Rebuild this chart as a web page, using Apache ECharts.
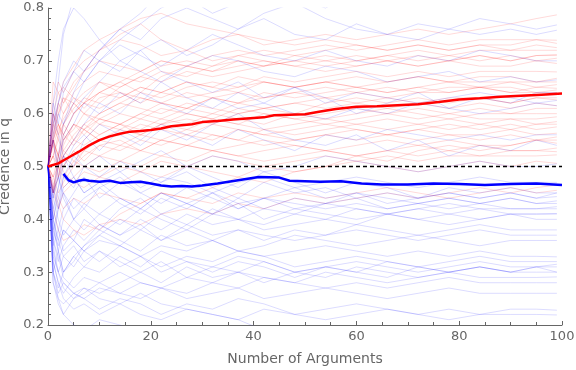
<!DOCTYPE html>
<html><head><meta charset="utf-8">
<script src="https://cdn.jsdelivr.net/npm/echarts@6/dist/echarts.min.js"></script>
<style>html,body{margin:0;padding:0;background:#fff}#c{width:576px;height:370px}</style>
</head><body><div id="c"></div>
<script>
const xTitle = "Number of Arguments";
const yTitle = "Credence in q";
const xTicks = [0, 20, 40, 60, 80, 100];
const yTicks = [0.2, 0.3, 0.4, 0.5, 0.6, 0.7, 0.8];
const neutral = 0.5;

// x positions of the individual runs
const runX = [0,1,2,3,5,7,10,14,18,22,27,32,37,42,48,54,60,66,72,78,84,90,95,99];

const redRuns = [
[.50,.55,.60,.62,.65,.68,.72,.75,.77,.74,.72,.74,.75,.73,.74,.75,.74,.75,.76,.75,.76,.77,.78,.787],
[.50,.66,.64,.65,.63,.62,.64,.66,.68,.70,.69,.71,.72,.71,.72,.73,.72,.73,.74,.73,.74,.74,.74,.739],
[.50,.45,.52,.56,.60,.62,.66,.65,.67,.69,.70,.69,.71,.72,.71,.72,.73,.72,.73,.72,.73,.73,.74,.733],
[.50,.58,.62,.60,.64,.66,.68,.67,.66,.68,.67,.69,.70,.69,.70,.71,.70,.71,.72,.71,.72,.72,.72,.720],
[.50,.55,.52,.58,.61,.63,.62,.65,.67,.66,.68,.67,.68,.69,.70,.69,.70,.71,.70,.71,.70,.71,.70,.705],
[.50,.60,.64,.62,.66,.68,.70,.69,.68,.70,.69,.68,.69,.70,.69,.68,.69,.70,.69,.70,.69,.69,.70,.695],
[.50,.45,.48,.54,.58,.57,.60,.62,.64,.63,.65,.66,.65,.67,.66,.67,.68,.67,.68,.67,.68,.68,.68,.679],
[.50,.56,.60,.63,.62,.60,.63,.64,.62,.64,.66,.65,.64,.66,.65,.66,.67,.66,.67,.66,.67,.67,.66,.667],
[.50,.55,.58,.56,.60,.62,.61,.63,.65,.64,.66,.65,.67,.66,.65,.66,.65,.66,.67,.66,.66,.66,.66,.660],
[.50,.48,.52,.55,.57,.60,.59,.61,.63,.62,.61,.63,.64,.63,.64,.65,.64,.65,.64,.65,.65,.64,.65,.648],
[.50,.58,.55,.58,.62,.64,.66,.64,.63,.62,.64,.63,.62,.63,.64,.63,.64,.63,.64,.64,.65,.64,.64,.640],
[.50,.52,.56,.58,.55,.57,.59,.58,.60,.62,.61,.60,.62,.61,.62,.63,.62,.63,.62,.63,.63,.62,.63,.626],
[.50,.55,.50,.53,.56,.58,.60,.62,.61,.60,.62,.61,.60,.61,.62,.61,.62,.61,.62,.61,.62,.61,.62,.615],
[.50,.45,.50,.52,.55,.54,.56,.58,.57,.59,.58,.60,.59,.58,.60,.59,.60,.61,.60,.59,.60,.60,.60,.600],
[.50,.60,.58,.55,.58,.56,.59,.58,.56,.58,.60,.59,.58,.60,.59,.58,.59,.60,.59,.60,.59,.59,.59,.594],
[.50,.52,.48,.50,.53,.55,.58,.57,.59,.58,.57,.59,.58,.57,.58,.59,.58,.59,.58,.59,.58,.59,.58,.585],
[.50,.55,.58,.56,.54,.57,.55,.56,.58,.57,.56,.58,.57,.56,.57,.58,.57,.56,.57,.58,.57,.58,.57,.575],
[.50,.48,.45,.47,.50,.52,.54,.53,.55,.54,.56,.55,.57,.56,.55,.56,.57,.56,.57,.56,.56,.57,.56,.563],
[.50,.55,.52,.50,.53,.51,.54,.55,.53,.55,.54,.56,.55,.54,.55,.56,.55,.56,.55,.56,.55,.56,.55,.556],
[.50,.45,.48,.52,.50,.53,.52,.54,.53,.55,.54,.53,.54,.55,.54,.53,.54,.55,.54,.55,.54,.54,.55,.544],
[.50,.52,.55,.53,.51,.50,.52,.51,.53,.52,.54,.53,.52,.53,.54,.53,.52,.53,.54,.53,.54,.53,.53,.535],
[.50,.48,.50,.46,.48,.50,.49,.51,.50,.52,.51,.53,.52,.51,.52,.53,.52,.53,.52,.53,.52,.53,.53,.528],
[.50,.55,.52,.49,.47,.49,.48,.50,.49,.51,.50,.52,.51,.50,.51,.52,.51,.52,.51,.52,.52,.52,.52,.522],
[.50,.45,.42,.45,.47,.46,.48,.47,.49,.48,.50,.49,.48,.50,.49,.50,.51,.50,.49,.50,.51,.50,.51,.506],
[.50,.42,.38,.36,.37,.39,.38,.41,.43,.45,.44,.46,.48,.47,.49,.50,.52,.51,.53,.54,.53,.54,.55,.550],
[.50,.47,.44,.42,.44,.43,.45,.44,.43,.45,.44,.43,.45,.44,.45,.44,.45,.46,.45,.44,.45,.46,.45,.455],
[.50,.46,.43,.40,.38,.37,.39,.40,.39,.41,.42,.41,.43,.42,.44,.43,.44,.45,.44,.45,.46,.45,.46,.465],
[.50,.62,.66,.64,.68,.70,.72,.74,.73,.71,.72,.70,.71,.70,.69,.70,.71,.70,.69,.70,.71,.70,.71,.712],
[.50,.58,.61,.63,.60,.62,.64,.63,.65,.64,.63,.64,.65,.66,.65,.66,.65,.64,.65,.66,.65,.66,.65,.655],
[.50,.54,.57,.59,.62,.60,.58,.60,.59,.61,.60,.59,.61,.60,.59,.60,.61,.60,.61,.60,.61,.60,.61,.610],
[.50,.56,.62,.66,.69,.72,.74,.76,.78,.79,.77,.76,.75,.74,.73,.74,.73,.72,.73,.72,.73,.72,.73,.725],
[.50,.52,.50,.55,.58,.57,.55,.54,.56,.55,.57,.56,.55,.57,.56,.57,.58,.57,.58,.57,.58,.57,.58,.580],
[.50,.60,.56,.60,.63,.61,.64,.66,.64,.67,.69,.68,.70,.69,.71,.70,.69,.70,.71,.70,.71,.70,.71,.710],
[.50,.54,.50,.52,.55,.58,.56,.58,.60,.59,.61,.63,.62,.64,.63,.64,.65,.64,.65,.64,.65,.65,.64,.645],
[.50,.46,.50,.48,.51,.53,.55,.57,.56,.58,.59,.58,.60,.61,.60,.62,.63,.62,.63,.62,.63,.62,.63,.630]
];

const blueRuns = [
[.50,.58,.66,.75,.82,.88,.92,.95,.96,.97,.97,.98,.98,.98,.98,.99,.99,.99,.99,.99,.99,.99,.99,.99],
[.50,.55,.60,.58,.64,.68,.72,.76,.79,.83,.86,.88,.90,.91,.92,.93,.93,.94,.94,.95,.95,.95,.95,.95],
[.50,.56,.62,.66,.70,.68,.72,.76,.74,.78,.80,.78,.76,.79,.81,.78,.76,.75,.77,.76,.78,.77,.76,.768],
[.50,.45,.52,.58,.62,.66,.70,.68,.72,.74,.71,.73,.76,.78,.75,.74,.77,.75,.74,.76,.75,.76,.75,.758],
[.50,.55,.50,.56,.60,.63,.66,.70,.68,.66,.69,.71,.70,.68,.67,.69,.68,.66,.67,.68,.66,.67,.66,.664],
[.50,.45,.48,.52,.55,.58,.62,.60,.64,.62,.60,.63,.61,.62,.60,.59,.61,.60,.62,.61,.60,.61,.62,.615],
[.50,.42,.46,.50,.54,.56,.53,.57,.55,.58,.56,.54,.57,.55,.53,.56,.55,.57,.56,.55,.56,.55,.56,.560],
[.50,.40,.44,.48,.46,.50,.52,.49,.51,.53,.50,.52,.51,.49,.50,.52,.51,.50,.49,.50,.51,.50,.50,.505],
[.50,.40,.36,.40,.44,.42,.46,.48,.45,.47,.49,.46,.44,.47,.45,.46,.44,.45,.44,.45,.44,.45,.44,.443],
[.50,.38,.42,.45,.40,.43,.41,.44,.42,.45,.43,.41,.44,.42,.44,.43,.45,.44,.43,.44,.43,.44,.43,.435],
[.50,.35,.38,.42,.45,.48,.44,.47,.45,.43,.46,.44,.42,.44,.43,.42,.43,.42,.43,.42,.43,.42,.42,.424],
[.50,.44,.40,.37,.40,.38,.41,.39,.42,.40,.38,.41,.40,.39,.41,.40,.42,.41,.40,.41,.42,.41,.41,.411],
[.50,.36,.32,.35,.38,.36,.39,.37,.40,.38,.41,.39,.40,.38,.39,.40,.39,.41,.40,.39,.40,.41,.40,.400],
[.50,.42,.38,.34,.36,.34,.37,.35,.38,.36,.39,.37,.38,.36,.38,.37,.39,.38,.37,.38,.39,.38,.38,.380],
[.50,.40,.34,.30,.33,.35,.38,.36,.34,.37,.35,.36,.34,.35,.37,.36,.35,.36,.37,.36,.35,.36,.36,.360],
[.50,.38,.35,.38,.36,.34,.36,.35,.33,.35,.34,.36,.34,.33,.34,.35,.34,.33,.34,.33,.34,.33,.33,.329],
[.50,.34,.30,.33,.31,.34,.32,.35,.33,.31,.33,.32,.34,.33,.31,.32,.33,.32,.31,.32,.33,.32,.32,.320],
[.50,.32,.28,.26,.29,.31,.30,.33,.31,.34,.32,.30,.32,.31,.29,.31,.30,.32,.31,.30,.31,.30,.31,.310],
[.50,.30,.27,.30,.33,.31,.34,.32,.30,.32,.29,.31,.30,.28,.30,.29,.31,.30,.29,.30,.31,.30,.30,.300],
[.50,.36,.33,.29,.27,.29,.28,.30,.28,.27,.29,.28,.30,.29,.28,.30,.29,.28,.29,.30,.29,.29,.29,.291],
[.50,.33,.30,.27,.25,.26,.28,.26,.28,.27,.26,.28,.27,.29,.28,.27,.28,.27,.28,.29,.28,.28,.28,.280],
[.50,.30,.26,.28,.26,.25,.27,.26,.25,.27,.25,.26,.27,.25,.26,.27,.26,.25,.26,.27,.26,.26,.26,.260],
[.50,.28,.25,.24,.26,.25,.23,.25,.24,.22,.24,.23,.25,.24,.22,.23,.24,.23,.22,.23,.22,.23,.23,.228],
[.50,.32,.28,.25,.23,.24,.22,.24,.22,.21,.23,.22,.21,.23,.22,.21,.22,.23,.22,.21,.22,.22,.22,.219],
[.50,.30,.25,.22,.20,.19,.21,.20,.18,.17,.16,.15,.15,.14,.14,.14,.13,.13,.13,.13,.13,.13,.13,.130],
[.50,.35,.30,.28,.26,.27,.25,.24,.26,.24,.23,.22,.21,.19,.18,.17,.17,.16,.16,.16,.16,.16,.16,.160],
[.50,.30,.34,.38,.36,.40,.38,.42,.44,.41,.43,.45,.42,.44,.46,.44,.45,.43,.44,.45,.44,.45,.44,.450],
[.50,.60,.56,.52,.48,.45,.47,.44,.42,.45,.43,.41,.43,.40,.42,.41,.40,.41,.42,.41,.40,.41,.41,.410],
[.50,.44,.48,.45,.42,.44,.46,.43,.41,.44,.42,.45,.43,.44,.42,.43,.44,.42,.43,.44,.43,.44,.43,.430],
[.50,.40,.36,.33,.35,.32,.34,.31,.33,.30,.32,.31,.33,.32,.30,.31,.32,.31,.30,.31,.32,.31,.31,.315],
[.50,.58,.62,.65,.68,.72,.70,.74,.77,.80,.82,.79,.81,.84,.82,.80,.83,.82,.81,.83,.82,.81,.82,.820],
[.50,.55,.48,.44,.40,.42,.39,.37,.39,.36,.38,.36,.38,.37,.36,.37,.38,.37,.36,.37,.38,.37,.37,.370],
[.50,.38,.34,.30,.32,.35,.37,.40,.38,.41,.39,.42,.40,.42,.41,.43,.42,.41,.42,.43,.42,.42,.42,.420],
[.50,.46,.42,.46,.48,.45,.47,.49,.46,.48,.47,.45,.47,.48,.46,.47,.48,.47,.46,.47,.48,.47,.47,.470],
[.50,.62,.70,.76,.80,.78,.74,.70,.72,.68,.66,.64,.66,.63,.65,.62,.64,.63,.62,.63,.64,.63,.62,.625],
[.50,.28,.24,.22,.25,.27,.26,.28,.30,.28,.31,.29,.30,.32,.30,.31,.30,.29,.31,.30,.31,.30,.31,.300],
[.50,.44,.50,.55,.58,.62,.60,.64,.62,.66,.63,.61,.64,.62,.65,.63,.60,.62,.64,.61,.63,.62,.64,.640],
[.50,.40,.46,.52,.50,.55,.58,.56,.54,.57,.55,.58,.60,.57,.55,.54,.56,.53,.55,.52,.54,.53,.55,.540],
[.50,.62,.58,.64,.68,.66,.70,.73,.71,.69,.72,.75,.73,.71,.70,.72,.70,.69,.71,.70,.72,.71,.70,.700],
[.50,.36,.42,.48,.52,.50,.48,.51,.49,.47,.50,.48,.46,.49,.47,.45,.47,.46,.44,.46,.45,.46,.45,.450]
];

const redMeanX = [0,2,4,6,8,10,12,14,16,18,20,22,24,26,28,30,33,36,40,42,44,47,50,53,56,60,64,68,72,76,80,84,88,92,96,100];
const redMeanY = [.500,.506,.517,.528,.540,.550,.557,.562,.566,.567,.569,.572,.576,.578,.580,.584,.586,.589,.592,.593,.597,.598,.599,.604,.609,.613,.614,.616,.618,.622,.627,.629,.632,.634,.636,.638];

const blueMeanX = [3,4,5,6,7,8,10,12,14,16,18,20,22,24,26,28,30,33,37,41,45,47,50,53,57,61,65,70,75,80,85,90,95,100];
const blueMeanY = [.486,.474,.470,.473,.475,.473,.471,.473,.469,.470,.471,.468,.464,.462,.463,.462,.464,.468,.474,.480,.479,.473,.472,.471,.472,.468,.466,.466,.468,.467,.465,.467,.468,.465];

const chart = echarts.init(document.getElementById('c'), null, {renderer: 'canvas'});
const font = 'DejaVu Sans';
const grey = '#666666';
const series = [];
const toPts = ys => ys.map((y, i) => [runX[i], y]);
redRuns.forEach(r => series.push({type:'line', data: toPts(r), symbol:'none', silent:true,
  lineStyle:{color:'rgba(255,0,0,0.15)', width:1}}));
blueRuns.forEach(r => series.push({type:'line', data: toPts(r), symbol:'none', silent:true,
  lineStyle:{color:'rgba(0,0,255,0.14)', width:1}}));
series.push({type:'line', data: [[xTicks[0], neutral], [xTicks[xTicks.length-1], neutral]], symbol:'none', silent:true,
  lineStyle:{color:'#000', width:1.5, type:[4,3]}});
series.push({type:'line', data: redMeanX.map((x,i)=>[x, redMeanY[i]]), symbol:'none', silent:true,
  lineStyle:{color:'#ff0000', width:2.5}});
series.push({type:'line', data: blueMeanX.map((x,i)=>[x, blueMeanY[i]]), symbol:'none', silent:true,
  lineStyle:{color:'#0000ff', width:2.5}});

chart.setOption({
  animation:false,
  grid:{left:48, right:14, top:8, bottom:45, containLabel:false, outerBoundsMode:'none'},
  xAxis:{type:'value', min:xTicks[0], max:xTicks[xTicks.length-1], interval:20,
    name:xTitle, nameLocation:'middle', nameGap:27,
    nameTextStyle:{color:grey, fontFamily:font, fontSize:14},
    axisLine:{show:true, lineStyle:{color:grey, width:1}},
    axisTick:{show:true, inside:true, length:4, lineStyle:{color:grey}},
    minorTick:{show:true, splitNumber:4, length:3, lineStyle:{color:grey}},
    splitLine:{show:false},
    axisLabel:{color:grey, fontFamily:font, fontSize:13, margin:5}},
  yAxis:{type:'value', min:yTicks[0], max:yTicks[yTicks.length-1], interval:0.1,
    name:yTitle, nameLocation:'middle', nameGap:28, nameRotate:90,
    nameTextStyle:{color:grey, fontFamily:font, fontSize:14},
    axisLine:{show:true, lineStyle:{color:grey, width:1}},
    axisTick:{show:true, inside:true, length:4, lineStyle:{color:grey}},
    minorTick:{show:true, splitNumber:5, length:3, lineStyle:{color:grey}},
    splitLine:{show:false},
    axisLabel:{color:grey, fontFamily:font, fontSize:13, margin:4, formatter:v=>v.toFixed(1)}},
  series: series
});
</script></body></html>
